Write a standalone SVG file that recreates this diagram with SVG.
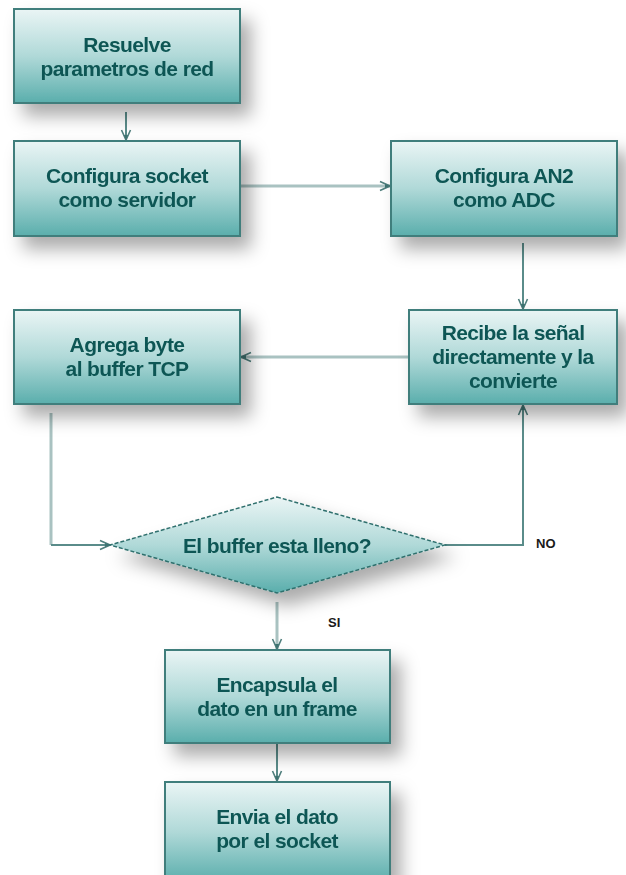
<svg xmlns="http://www.w3.org/2000/svg" width="626" height="875" viewBox="0 0 626 875">
  <defs>
    <linearGradient id="boxFill" x1="0" y1="0" x2="0" y2="1">
      <stop offset="0" stop-color="#eaf5f5"/>
      <stop offset="0.5" stop-color="#b0d9d8"/>
      <stop offset="1" stop-color="#5aaeac"/>
    </linearGradient>
    <filter id="shadow" x="-20%" y="-25%" width="155%" height="170%">
      <feGaussianBlur in="SourceAlpha" stdDeviation="9"/>
      <feOffset dx="10" dy="12" result="blur"/>
      <feFlood flood-color="#000" flood-opacity="0.33"/>
      <feComposite in2="blur" operator="in"/>
      <feMerge>
        <feMergeNode/>
        <feMergeNode in="SourceGraphic"/>
      </feMerge>
    </filter>
    <marker id="arrow" viewBox="0 0 12 12" refX="11" refY="6" markerWidth="12" markerHeight="12" markerUnits="userSpaceOnUse" orient="auto">
      <path d="M1,1.5 L11,6 L1,10.5" fill="none" stroke="#4f7f7d" stroke-width="1.6"/>
      <path d="M6,4 L11,6 L6,8 Z" fill="#3f7472"/>
    </marker>
    <style>
      .box { fill: url(#boxFill); stroke: #3f7e7c; stroke-width: 2; }
      .dia { fill: url(#boxFill); stroke: #2f6f6d; stroke-width: 1.5; stroke-dasharray: 4 2; }
      .lbl { font-family: "Liberation Sans", Arial, sans-serif; font-weight: bold; font-size: 21px; fill: #0f5754; text-anchor: middle; letter-spacing: -0.6px; }
      .tag { font-family: "Liberation Sans", Arial, sans-serif; font-weight: bold; font-size: 13px; fill: #1a1a1a; }
      .wire { fill: none; stroke: #5a8c8a; stroke-width: 2; }
      .wire-light { fill: none; stroke: #a9c2c1; stroke-width: 3; }
    </style>
  </defs>

  <rect width="626" height="875" fill="#ffffff"/>

  <!-- connectors -->
  <g id="connectors">
    <path class="wire" d="M126,112 V140" marker-end="url(#arrow)"/>
    <path class="wire-light" d="M240,186 H390" marker-end="url(#arrow)"/>
    <path class="wire" d="M523,243 V309" marker-end="url(#arrow)"/>
    <path class="wire-light" d="M409,357 H241" marker-end="url(#arrow)"/>
    <path class="wire-light" d="M51,413 V545"/>
    <path class="wire" d="M51,545 H110" marker-end="url(#arrow)"/>
    <path class="wire" d="M445,545 H523 V405" marker-end="url(#arrow)"/>
    <path class="wire-light" d="M277,602 V649" marker-end="url(#arrow)"/>
    <path class="wire" d="M277,743 V781" marker-end="url(#arrow)"/>
    <text class="tag" x="536" y="548">NO</text>
    <text class="tag" x="328" y="627">SI</text>
  </g>

  <g id="resuelve" filter="url(#shadow)">
    <rect class="box" x="14" y="9" width="226" height="94"/>
    <text class="lbl" x="127" y="52">Resuelve</text>
    <text class="lbl" x="127" y="76">parametros de red</text>
  </g>

  <g id="configura-socket" filter="url(#shadow)">
    <rect class="box" x="14" y="141" width="226" height="95"/>
    <text class="lbl" x="127" y="183">Configura socket</text>
    <text class="lbl" x="127" y="207">como servidor</text>
  </g>

  <g id="configura-an2" filter="url(#shadow)">
    <rect class="box" x="391" y="141" width="226" height="95"/>
    <text class="lbl" x="504" y="183">Configura AN2</text>
    <text class="lbl" x="504" y="207">como ADC</text>
  </g>

  <g id="recibe" filter="url(#shadow)">
    <rect class="box" x="409" y="310" width="208" height="94"/>
    <text class="lbl" x="513" y="340">Recibe la señal</text>
    <text class="lbl" x="513" y="364">directamente y la</text>
    <text class="lbl" x="513" y="388">convierte</text>
  </g>

  <g id="agrega" filter="url(#shadow)">
    <rect class="box" x="14" y="310" width="226" height="94"/>
    <text class="lbl" x="127" y="352">Agrega byte</text>
    <text class="lbl" x="127" y="376">al buffer TCP</text>
  </g>

  <g id="decision" filter="url(#shadow)">
    <polygon class="dia" points="277,497 445,545 277,593 110,545"/>
    <text class="lbl" x="277" y="553">El buffer esta lleno?</text>
  </g>

  <g id="encapsula" filter="url(#shadow)">
    <rect class="box" x="165" y="650" width="225" height="93"/>
    <text class="lbl" x="277" y="692">Encapsula el</text>
    <text class="lbl" x="277" y="716">dato en un frame</text>
  </g>

  <g id="envia" filter="url(#shadow)">
    <rect class="box" x="165" y="782" width="225" height="100"/>
    <text class="lbl" x="277" y="824">Envia el dato</text>
    <text class="lbl" x="277" y="848">por el socket</text>
  </g>
</svg>
